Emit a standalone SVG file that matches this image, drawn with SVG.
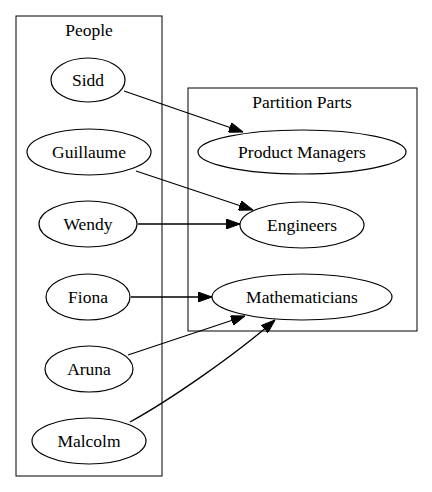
<svg xmlns="http://www.w3.org/2000/svg" width="432" height="492" viewBox="0 0 432 492">
<style>
.cl{fill:none;stroke:#000;stroke-width:1}
.nd{fill:none;stroke:#000;stroke-width:1.2}
.t{font-family:'Liberation Serif','DejaVu Serif',serif;font-size:17.5px;fill:#000;text-anchor:middle}
.e{fill:none;stroke:#000;stroke-width:1.3;marker-end:url(#ah)}
</style>
<defs>
<marker id="ah" markerUnits="userSpaceOnUse" markerWidth="14" markerHeight="10" viewBox="0 0 14 10" refX="14" refY="5" orient="auto">
<polygon points="0,0 14,5 0,10" fill="#000" stroke="#000" stroke-width="1"/>
</marker>
</defs>
<rect width="432" height="492" fill="#fff"/>
<g id="cluster_people">
<rect class="cl" x="16" y="16" width="146" height="460"/>
<text class="t" x="89" y="36">People</text>
</g>
<g id="cluster_parts">
<rect class="cl" x="188" y="88" width="229" height="243"/>
<text class="t" x="302" y="108">Partition Parts</text>
</g>
<g id="Sidd"><ellipse class="nd" cx="88" cy="80" rx="37" ry="22"/><text class="t" x="88" y="86">Sidd</text></g>
<g id="Guillaume"><ellipse class="nd" cx="89" cy="152" rx="62" ry="23"/><text class="t" x="89" y="158">Guillaume</text></g>
<g id="Wendy"><ellipse class="nd" cx="88" cy="224" rx="49" ry="23"/><text class="t" x="88" y="230">Wendy</text></g>
<g id="Fiona"><ellipse class="nd" cx="88" cy="297" rx="42" ry="23"/><text class="t" x="88" y="303">Fiona</text></g>
<g id="Aruna"><ellipse class="nd" cx="89" cy="369" rx="44" ry="23"/><text class="t" x="89" y="375">Aruna</text></g>
<g id="Malcolm"><ellipse class="nd" cx="89" cy="441" rx="57" ry="23"/><text class="t" x="89" y="447">Malcolm</text></g>
<g id="ProductManagers"><ellipse class="nd" cx="302" cy="152" rx="104" ry="22"/><text class="t" x="302" y="158">Product Managers</text></g>
<g id="Engineers"><ellipse class="nd" cx="302" cy="225" rx="62" ry="23"/><text class="t" x="302" y="231">Engineers</text></g>
<g id="Mathematicians"><ellipse class="nd" cx="302" cy="297" rx="90" ry="23"/><text class="t" x="302" y="303">Mathematicians</text></g>
<g id="edges">
<path class="e" d="M124,91 L243,132"/>
<path class="e" d="M136,171 L253,210"/>
<path class="e" d="M138,224 L240,224"/>
<path class="e" d="M131,297 L212,297"/>
<path class="e" d="M128,355 L245,316"/>
<path class="e" d="M130,422 C170,400 235,355 275,320"/>
</g>
</svg>
